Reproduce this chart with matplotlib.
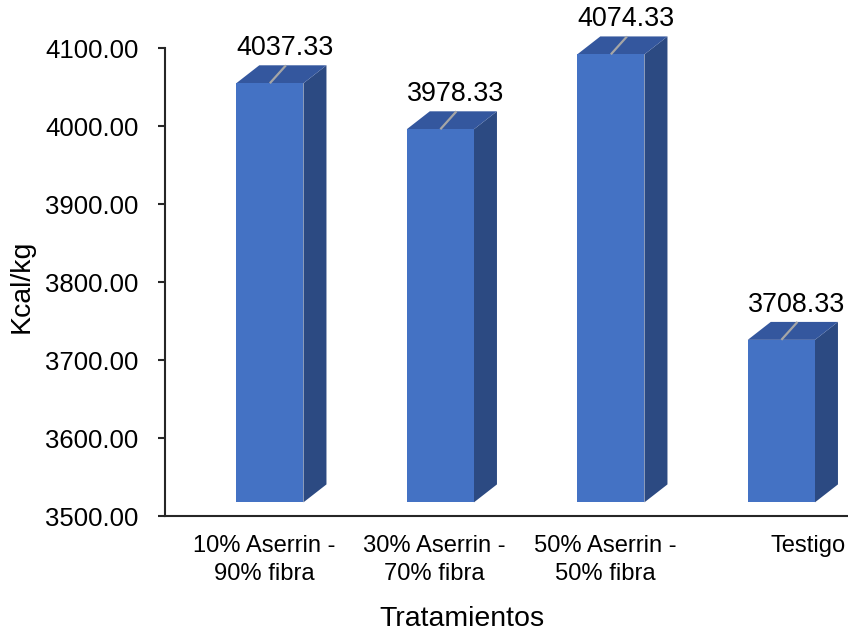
import matplotlib
matplotlib.use("Agg")
import matplotlib.pyplot as plt
from matplotlib.patches import Polygon
from matplotlib.transforms import ScaledTranslation

plt.rcParams["font.family"] = ["Liberation Sans", "DejaVu Sans"]

# Data
categories = ["10% Aserrin -\n90% fibra", "30% Aserrin -\n70% fibra",
              "50% Aserrin -\n50% fibra", "Testigo"]
values = [4037.33, 3978.33, 4074.33, 3708.33]
value_labels = ["4037.33", "3978.33", "4074.33", "3708.33"]
y_ticks = [3500, 3600, 3700, 3800, 3900, 4000, 4100]

# 3D look of the columns
front_color = "#4472C4"
top_color = "#34579E"
side_color = "#2C4A82"
base = 3500
lift = 17.5          # front face sits slightly above the floor
bar_left = -0.082    # front face left edge relative to category index
bar_w = 0.394
depth_x = 0.135
depth_y = 23.0

fig = plt.figure(figsize=(8.48, 6.35), dpi=100)
ax = fig.add_axes([165 / 848, 119 / 635, 682 / 848, 468 / 635])
ax.set_xlim(-0.5, len(categories) - 0.5)
ax.set_ylim(base, 4100)

for i, v in enumerate(values):
    x0 = i + bar_left
    x1 = x0 + bar_w
    y0 = base + lift
    y1 = v + lift
    front = Polygon([(x0, y0), (x1, y0), (x1, y1), (x0, y1)], closed=True,
                    facecolor=front_color, edgecolor="none", clip_on=False, zorder=3)
    side = Polygon([(x1, y0), (x1 + depth_x, y0 + depth_y),
                    (x1 + depth_x, y1 + depth_y), (x1, y1)], closed=True,
                   facecolor=side_color, edgecolor="none", clip_on=False, zorder=2)
    top = Polygon([(x0, y1), (x1, y1), (x1 + depth_x, y1 + depth_y),
                   (x0 + depth_x, y1 + depth_y)], closed=True,
                  facecolor=top_color, edgecolor="none", clip_on=False, zorder=2)
    for p in (side, top, front):
        ax.add_patch(p)
    # leader line from the column top to its label
    xm = (x0 + x1) / 2
    ax.plot([xm, xm + depth_x * 0.7], [y1, y1 + depth_y], color="#A6A6A6",
            lw=1.6, clip_on=False, zorder=4, solid_capstyle="butt")
    ax.text(x0 + 0.288, y1 + depth_y + 13, value_labels[i], ha="center",
            va="baseline", fontsize=19.4, color="black", clip_on=False, zorder=5)

# Axes styling
for s in ("top", "right"):
    ax.spines[s].set_visible(False)
for s in ("left", "bottom"):
    ax.spines[s].set_color("#262626")
    ax.spines[s].set_linewidth(1.5)
    ax.spines[s].set_zorder(6)

ax.set_yticks(y_ticks)
ax.set_yticklabels([f"{t:.2f}" for t in y_ticks])
ax.tick_params(axis="y", length=5, width=1.5, color="#262626", pad=14,
               labelsize=18.5, labelcolor="black")

ax.set_xticks([i + 0.082 for i in range(len(categories))])
ax.set_xticklabels(categories, linespacing=1.3)
ax.tick_params(axis="x", length=0, pad=14, labelsize=17.1, labelcolor="black")
last = ax.get_xticklabels()[-1]
last.set_transform(last.get_transform() + ScaledTranslation(32 / 100, 0, fig.dpi_scale_trans))

fig.text(22 / 848, 1 - 286 / 635, "Kcal/kg", rotation=90, ha="center", va="center",
         fontsize=20.5, color="black")
fig.text(462 / 848, 1 - 619 / 635, "Tratamientos", ha="center", va="center",
         fontsize=20.5, color="black")

fig.savefig("out.png", dpi=100, facecolor="white")
